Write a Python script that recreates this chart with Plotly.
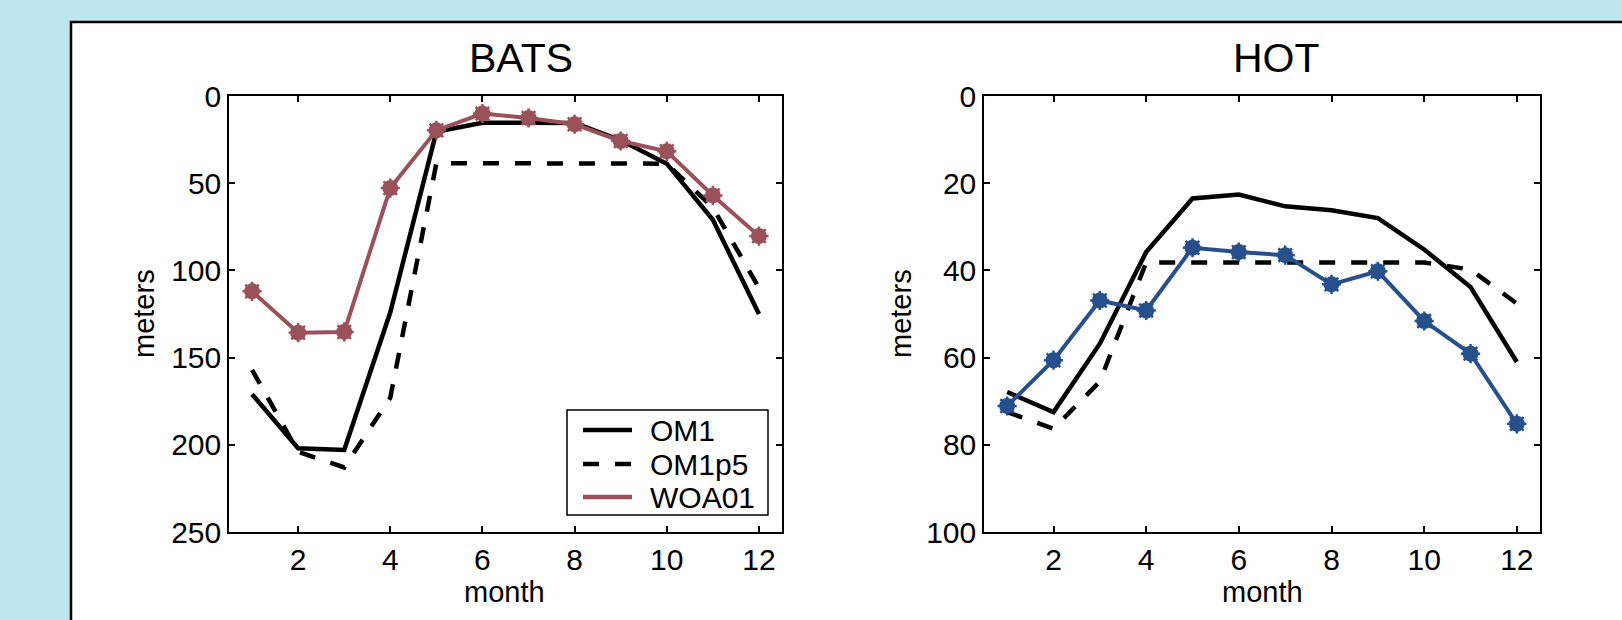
import plotly.graph_objects as go

W, H = 1622, 620

# ---------------- data ----------------
months = [1, 2, 3, 4, 5, 6, 7, 8, 9, 10, 11, 12]

bats_om1 = [171, 202, 203, 124, 20.5, 15.3, 15.3, 15.5, 25.4, 38.8, 71, 125]
bats_om1p5 = [157, 204, 213, 173, 38.5, 38.5, 38.5, 38.5, 38.5, 38.8, 64, 110]
bats_woa01 = [112, 135.7, 135.3, 52.8, 19.7, 10.1, 12.6, 16.2, 25.8, 31.7, 57, 80.3]

hot_om1 = [67.9, 72.5, 56.8, 35.8, 23.5, 22.6, 25.3, 26.2, 28.0, 35.2, 43.8, 61]
hot_om1p5 = [72.5, 76.3, 65.5, 38.2, 38.2, 38.2, 38.2, 38.2, 38.2, 38.2, 39.8, 47.6]
hot_obs = [71.1, 60.6, 46.9, 49.2, 34.8, 35.8, 36.5, 43.2, 40.2, 51.6, 59.1, 75.2]

x_ticks = [2, 4, 6, 8, 10, 12]
bats_y_ticks = [0, 50, 100, 150, 200, 250]
hot_y_ticks = [0, 20, 40, 60, 80, 100]

series_names = ["OM1", "OM1p5", "WOA01"]
titles = ["BATS", "HOT"]

# ---------------- style ----------------
FONT = "Liberation Sans, Arial, Helvetica, sans-serif"
BG = "#bee6f1"
MAROON = "#9a5159"
BLUE = "#25508c"
LW = 4.5
DASH = "16px,16px"


def px(x):
    return x / W


def py(y):
    return 1 - y / H


fig = go.Figure()


def add_panel(xa, ya, om1, om1p5, obs, obs_color):
    fig.add_trace(go.Scatter(x=months, y=om1, mode="lines", name=series_names[0],
                             line=dict(color="black", width=LW), xaxis=xa, yaxis=ya,
                             showlegend=False))
    fig.add_trace(go.Scatter(x=months, y=om1p5, mode="lines", name=series_names[1],
                             line=dict(color="black", width=LW, dash=DASH),
                             xaxis=xa, yaxis=ya, showlegend=False))
    fig.add_trace(go.Scatter(x=months, y=obs, mode="lines", name=series_names[2],
                             line=dict(color=obs_color, width=4), xaxis=xa, yaxis=ya,
                             showlegend=False))
    fig.add_trace(go.Scatter(x=months, y=obs, mode="markers", showlegend=False,
                             name=series_names[2],
                             marker=dict(symbol="circle", size=16, color=obs_color,
                                         line=dict(width=0)),
                             xaxis=xa, yaxis=ya))
    fig.add_trace(go.Scatter(x=months, y=obs, mode="markers", showlegend=False,
                             name=series_names[2],
                             marker=dict(symbol="asterisk-open", size=16, color=obs_color,
                                         line=dict(width=2.5, color=obs_color)),
                             xaxis=xa, yaxis=ya))


add_panel("x", "y", bats_om1, bats_om1p5, bats_woa01, MAROON)
add_panel("x2", "y2", hot_om1, hot_om1p5, hot_obs, BLUE)

axis_common = dict(
    showgrid=False, zeroline=False, showline=True, linecolor="black", linewidth=1.5,
    mirror="allticks", ticks="inside", ticklen=6, tickwidth=1.5, tickcolor="black",
    tickfont=dict(family=FONT, size=30, color="black"), automargin=False,
)

fig.update_layout(
    width=W, height=H,
    margin=dict(l=0, r=0, t=0, b=0),
    paper_bgcolor=BG, plot_bgcolor="rgba(0,0,0,0)",
    font=dict(family=FONT, color="black"),
    xaxis=dict(domain=[px(229), px(782)], range=[0.5, 12.5], tickvals=x_ticks,
               anchor="y", **axis_common),
    yaxis=dict(domain=[py(532), py(96)], range=[250, 0], tickvals=bats_y_ticks,
               anchor="x", **axis_common),
    xaxis2=dict(domain=[px(984), px(1540)], range=[0.5, 12.5], tickvals=x_ticks,
                anchor="y2", **axis_common),
    yaxis2=dict(domain=[py(532), py(96)], range=[100, 0], tickvals=hot_y_ticks,
                anchor="x2", **axis_common),
    showlegend=False,
)

shapes = []
# white panel with black frame
shapes.append(dict(type="rect", xref="paper", yref="paper",
                   x0=px(71), y0=-0.05, x1=1.05, y1=py(22),
                   line=dict(color="black", width=2.5), fillcolor="white", layer="below"))
# legend box (BATS panel)
shapes.append(dict(type="rect", xref="paper", yref="paper",
                   x0=px(567), y0=py(515), x1=px(768), y1=py(410),
                   line=dict(color="black", width=1.5), fillcolor="white", layer="above"))
legend_rows = [430, 464, 497]
legend_styles = [dict(color="black", width=LW), dict(color="black", width=LW, dash=DASH),
                 dict(color=MAROON, width=LW)]
for ry, st in zip(legend_rows, legend_styles):
    shapes.append(dict(type="line", xref="paper", yref="paper",
                       x0=px(583), x1=px(632), y0=py(ry), y1=py(ry), line=st, layer="above"))

ann = []
for ry, name in zip(legend_rows, series_names):
    ann.append(dict(x=px(648), y=py(ry), text=name, showarrow=False, xref="paper",
                    yref="paper", xanchor="left", yanchor="middle",
                    font=dict(family=FONT, size=30, color="black")))
for cx, t in zip([521, 1276], titles):
    ann.append(dict(x=px(cx), y=py(58), text=t, showarrow=False, xref="paper", yref="paper",
                    xanchor="center", yanchor="middle",
                    font=dict(family=FONT, size=41, color="black")))
for cx in [505, 1262]:
    ann.append(dict(x=px(cx), y=py(592), text="month", showarrow=False, xref="paper",
                    yref="paper", xanchor="center", yanchor="middle",
                    font=dict(family=FONT, size=29, color="black")))
for cx in [144, 901]:
    ann.append(dict(x=px(cx), y=py(314), text="meters", showarrow=False, xref="paper",
                    yref="paper", xanchor="center", yanchor="middle", textangle=-90,
                    font=dict(family=FONT, size=29, color="black")))
fig.update_layout(annotations=ann, shapes=shapes)

fig.write_html(
    "out.html",
    config={"displayModeBar": False},
    post_script="document.body.style.margin='0px';document.body.style.overflow='hidden';"
                "document.body.style.background='" + BG + "';",
)
